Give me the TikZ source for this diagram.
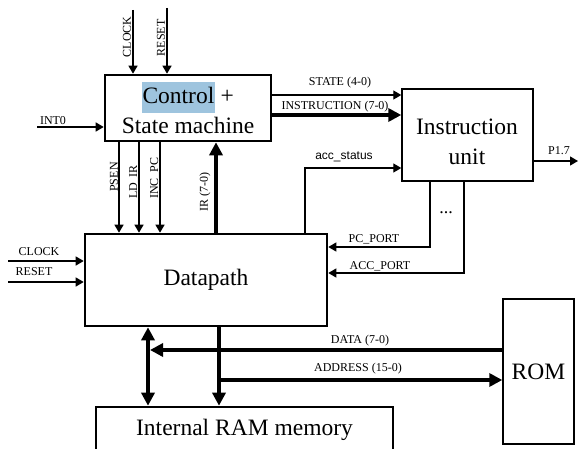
\documentclass[tikz,border=0pt]{standalone}
\usepackage{fontspec}
\setmainfont{Liberation Serif}
\newfontfamily\sansf{Liberation Sans}
\usetikzlibrary{arrows.meta,calc}
\definecolor{hl}{RGB}{158,196,222}
\begin{document}
\begin{tikzpicture}[x=1pt,y=-1pt,
  box/.style={draw, line width=2.6pt, inner sep=0pt, align=center, font=\fontsize{23.5}{30}\selectfont},
  tbox/.style={box, line width=1.4pt},
  lab/.style={font=\fontsize{12}{14}\selectfont, inner sep=0pt},
  tarr/.style={line width=1.3pt, -{Triangle[length=8pt,width=9pt]}},
  Tarr/.style={line width=4pt, -{Triangle[length=13pt,width=13pt]}},
  Tboth/.style={line width=4pt, {Triangle[length=13pt,width=13pt]}-{Triangle[length=13pt,width=13pt]}}]
\useasboundingbox (0,0) rectangle (580,449);
\clip (0,0) rectangle (580,449);
\fill[white] (0,0) rectangle (580,449);

% boxes
\node[box, minimum width=166pt, minimum height=66pt] (ctrl) at (188,108)
  {\setlength{\fboxsep}{0.5pt}\colorbox{hl}{\strut Control} +\\State machine};
\node[tbox, minimum width=131pt, minimum height=92pt] (iu) at (467.5,135) {};
\node[font=\fontsize{23.5}{30}\selectfont, align=center, inner sep=0pt] (iutext) at (467,142) {Instruction\\unit};
\node[box, minimum width=242pt, minimum height=92pt] (dp) at (206,280) {Datapath};
\node[box, minimum width=297pt, minimum height=46pt] (ram) at (244.5,430) {Internal RAM memory};
\node[tbox, minimum width=71pt, minimum height=145pt] (rom) at (538.5,371.5) {ROM};

% control inputs
\coordinate (c1) at (133,10);
\draw[tarr] (c1) -- (c1 |- ctrl.north);
\coordinate (r1) at (167,8);
\draw[tarr] (r1) -- (r1 |- ctrl.north);
\coordinate (i0) at (37,127);
\draw[tarr] (i0) -- (i0 -| ctrl.west);
\node[lab, rotate=90] (lclk) at (127,37) {CLOCK};
\node[lab, rotate=90] (lrst) at (161,38) {RESET};
\node[lab] (lint) at (53,121) {INT0};

% control -> instruction unit
\coordinate (ys) at (0,95);
\draw[tarr] (ctrl.east |- ys) -- (iu.west |- ys);
\coordinate (yi) at (0,115);
\draw[Tarr] (ctrl.east |- yi) -- (iu.west |- yi);
\node[lab] (lstate) at (340,83) {STATE (4-0)};
\node[lab] (linstr) at (335,107) {INSTRUCTION (7-0)};

% acc_status
\coordinate (ac) at (305,168);
\draw[tarr] (dp.north -| ac) |- (iu.west |- ac);
\node[lab, font=\sansf\fontsize{12}{14}\selectfont] (lacc) at (344,157) {acc\_status};

% P1.7
\coordinate (p17) at (578,161);
\draw[tarr] (iu.east |- p17) -- (p17);
\node[lab] (lp17) at (559,151) {P1.7};

% ports
\coordinate (pc) at (430,247);
\draw[tarr] (iu.south -| pc) |- (dp.east |- pc);
\coordinate (ap) at (464,273);
\draw[tarr] (iu.south -| ap) |- (dp.east |- ap);
\node[lab] (lpc) at (374,239) {PC\_PORT};
\node[lab] (lap) at (380,266) {ACC\_PORT};
\node[font=\fontsize{18}{18}\selectfont, inner sep=0pt] (dots) at (446,213) {...};

% control -> datapath
\coordinate (ps) at (119,0);
\coordinate (ld) at (139,0);
\coordinate (inc) at (160,0);
\draw[tarr] (ctrl.south -| ps) -- (dp.north -| ps);
\draw[tarr] (ctrl.south -| ld) -- (dp.north -| ld);
\draw[tarr] (ctrl.south -| inc) -- (dp.north -| inc);
\node[lab, rotate=90] (lps) at (114,177) {PSEN};
\node[lab, rotate=90] (lld) at (134,182) {LD\_IR};
\node[lab, rotate=90] (linc) at (155,178) {INC\_PC};
\coordinate (ir) at (216,0);
\draw[Tarr] (dp.north -| ir) -- (ctrl.south -| ir);
\node[lab, rotate=90] (lir) at (205,192) {IR (7-0)};

% datapath inputs
\coordinate (lc) at (8,261);
\draw[tarr] (lc) -- (lc -| dp.west);
\coordinate (lr) at (8,282);
\draw[tarr] (lr) -- (lr -| dp.west);
\node[lab] (lclk2) at (39,252) {CLOCK};
\node[lab] (lrst2) at (34,272) {RESET};

% buses
\coordinate (bd) at (148,350);
\coordinate (bd2) at (150,350);
\draw[Tboth] (dp.south -| bd) -- (ram.north -| bd);
\draw[Tarr] (rom.west |- bd) -- (bd2);
\coordinate (ba) at (219,380);
\draw[Tarr] (dp.south -| ba) -- (ram.north -| ba);
\draw[Tarr] (ba) -- (rom.west |- ba);
\node[lab] (ldata) at (360,341) {DATA (7-0)};
\node[lab] (laddr) at (358,369) {ADDRESS (15-0)};
\end{tikzpicture}
\end{document}
